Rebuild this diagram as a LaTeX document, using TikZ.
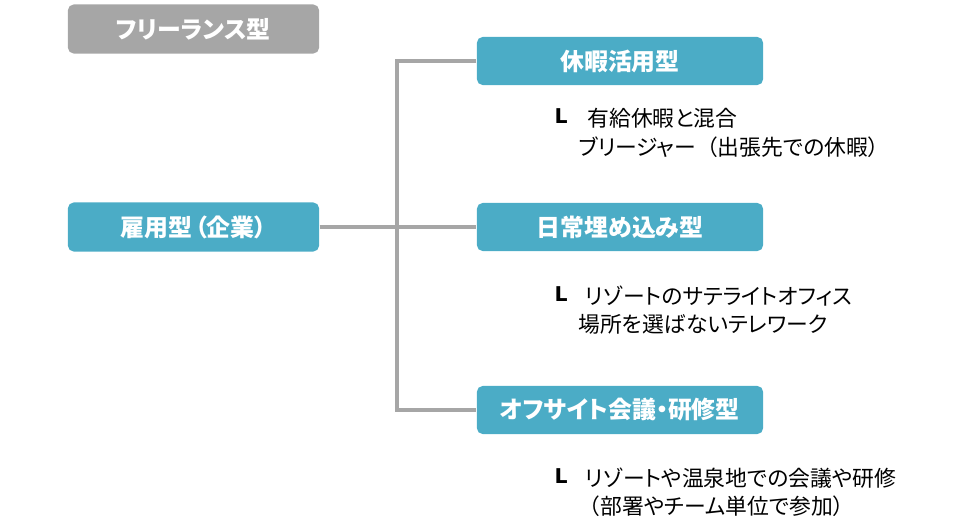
\documentclass[tikz,border=0pt]{standalone}
\usepackage{fontspec}
\setmainfont{Noto Sans CJK JP}[RawFeature=+palt]
\newfontfamily\widejp{Noto Sans CJK JP}
\newfontfamily\markfont{DejaVu Sans}
\newcommand\lpar{{\widejp （}}
\newcommand\rpar{{\widejp ）}}
\definecolor{boxteal}{HTML}{4BACC6}
\definecolor{boxgray}{HTML}{A6A6A6}
\definecolor{linegray}{HTML}{A6A6A6}
\begin{document}
\begin{tikzpicture}
[x=0.025cm, y=-0.025cm, line width=0.75pt,
typebox/.style={rectangle, rounded corners=4pt, fill=boxteal, text=white, inner sep=0pt, font=\fontsize{17}{20}\selectfont\bfseries},
leftbox/.style={typebox, minimum width=6.275cm, minimum height=1.225cm},
rightbox/.style={typebox, minimum width=7.15cm, minimum height=1.2cm},
conn/.style={draw=linegray, line width=2.2pt},
note/.style={anchor=west, inner sep=0pt, font=\fontsize{15.5}{18}\selectfont},
lmark/.style={inner sep=0pt, font=\markfont\fontsize{14.5}{16}\selectfont\bfseries}]

\useasboundingbox (0,0) rectangle (980,526);

\node[leftbox, fill=boxgray] (free) at (193.5,29) {フリーランス型};
\node[leftbox] (koyo) at (193.5,227) {雇用型\hspace{2pt}（企業）};

\node[rightbox] (kyuka) at (620,61) {休暇活用型};
\node[rightbox] (nichijo) at (620,227) {日常埋め込み型};
\node[rightbox] (offsite) at (620,410) {オフサイト会議・研修型};

\coordinate (hub) at (397,227);
\draw[conn] (koyo.east) -- (nichijo.west);
\draw[conn] (kyuka.west) -| (hub) |- (offsite.west);

\foreach \y/\n in {116/1, 294/2, 476/3} {
  \node[lmark] (mark\n) at (561,\y) {L};
}

\node[note] (kyuka1) at (587,118) {有給休暇と混合};
\node[note] (kyuka2) at (578,147) {ブリージャー\lpar 出張先での休暇\rpar};
\node[note] (nichijo1) at (585,296) {リゾートのサテライトオフィス};
\node[note] (nichijo2) at (578,324) {場所を選ばないテレワーク};
\node[note] (offsite1) at (585,478) {リゾートや温泉地での会議や研修};
\node[note] (offsite2) at (578,506) {\lpar 部署やチーム単位で参加\rpar};
\end{tikzpicture}
\end{document}
